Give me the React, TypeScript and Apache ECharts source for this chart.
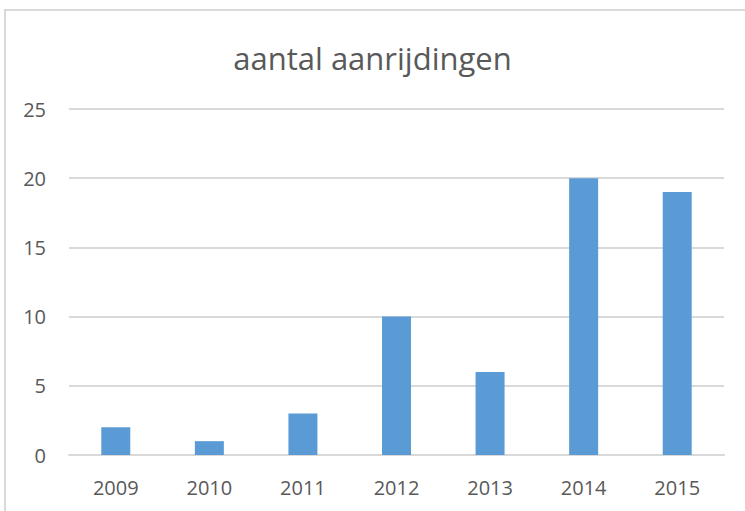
import React, { useEffect, useRef } from "react";
import * as echarts from "echarts";

const categories = ["2009", "2010", "2011", "2012", "2013", "2014", "2015"];
const values = [2, 1, 3, 10, 6, 20, 19];
const titleText = "aantal aanrijdingen";

export default function App() {
  const ref = useRef<HTMLDivElement>(null);
  useEffect(() => {
    document.body.style.margin = "0";
    const chart = echarts.init(ref.current!, undefined, { renderer: "svg" });
    const font = "'Open Sans', 'Noto Sans', sans-serif";
    chart.setOption({
      animation: false,
      backgroundColor: "#ffffff",
      title: {
        text: titleText,
        left: "center",
        top: 37,
        textStyle: { color: "#595959", fontSize: 31, fontWeight: "normal", fontFamily: font },
      },
      graphic: [
        { type: "line", shape: { x1: 4, y1: 10, x2: 745, y2: 10 }, style: { stroke: "#d9d9d9", lineWidth: 2 } },
        { type: "line", shape: { x1: 5, y1: 10, x2: 5, y2: 511 }, style: { stroke: "#d9d9d9", lineWidth: 2 } },
      ],
      grid: { left: 69, right: 21, top: 109, bottom: 56 },
      xAxis: {
        type: "category",
        data: categories,
        axisLine: { lineStyle: { color: "#d9d9d9", width: 2 } },
        axisTick: { show: false },
        axisLabel: { color: "#595959", fontSize: 20, fontFamily: font, margin: 22 },
      },
      yAxis: {
        type: "value",
        min: 0,
        max: 25,
        interval: 5,
        axisLine: { show: false },
        axisTick: { show: false },
        splitLine: { lineStyle: { color: "#d9d9d9", width: 2 } },
        axisLabel: { color: "#595959", fontSize: 20, fontFamily: font, margin: 23 },
      },
      series: [
        {
          type: "bar",
          data: values,
          barWidth: 29,
          itemStyle: { color: "#5b9bd5" },
        },
      ],
    });
    return () => chart.dispose();
  }, []);
  return <div ref={ref} style={{ position: "fixed", left: 0, top: 0, width: 745, height: 511 }} />;
}
